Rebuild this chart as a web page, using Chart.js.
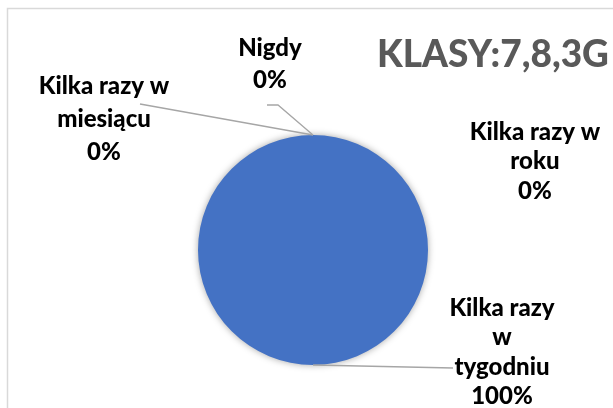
<!DOCTYPE html>
<html>
<head>
<meta charset="utf-8">
<script src="https://cdn.jsdelivr.net/npm/chart.js@4"></script>
<style>
  html, body { margin: 0; padding: 0; background: #fff; }
  #wrap { width: 613px; height: 408px; position: relative; }
</style>
</head>
<body>
<div id="wrap"><canvas id="pieChart"></canvas></div>
<script>
// Dane wykresu
const categories = ["Kilka razy w tygodniu", "Kilka razy w miesiącu", "Nigdy", "Kilka razy w roku"];
const values = [100, 0, 0, 0];
const chartTitle = "KLASY:7,8,3G";

// Etykiety: linie tekstu i miejsce (srodek tekstu), plus punkt konca linii odniesienia
const labelLines = [
  ["Kilka razy", "w", "tygodniu"],
  ["Kilka razy w", "miesiącu"],
  ["Nigdy"],
  ["Kilka razy w", "roku"],
];
const labelPos = [
  { x: 502, y: 308, lh: 29.5, line: [[453, 368]] },
  { x: 104, y: 86, lh: 33, line: [[140, 104]] },
  { x: 270, y: 48, lh: 32, line: [[278, 105], [267, 105]] },
  { x: 535, y: 132, lh: 29.5, line: null },
];

const FONT = "Lato, 'Open Sans', sans-serif";

const labelPlugin = {
  id: "pieLabels",
  beforeDatasetsDraw(chart) {
    const ctx = chart.ctx;
    ctx.save();
    ctx.shadowColor = "rgba(0,0,0,0.35)";
    ctx.shadowBlur = 7;
  },
  afterDatasetsDraw(chart) {
    const ctx = chart.ctx;
    ctx.restore();
    const meta = chart.getDatasetMeta(0);
    const total = values.reduce((a, b) => a + b, 0);

    // linie odniesienia
    ctx.save();
    ctx.strokeStyle = "#a6a6a6";
    ctx.lineWidth = 1.3;
    meta.data.forEach((arc, i) => {
      const pos = labelPos[i];
      if (!pos.line) return;
      const p = arc.getProps(["x", "y", "startAngle", "endAngle", "outerRadius"], true);
      const mid = (p.startAngle + p.endAngle) / 2;
      const sx = p.x + Math.cos(mid) * p.outerRadius;
      const sy = p.y + Math.sin(mid) * p.outerRadius;
      ctx.beginPath();
      ctx.moveTo(sx, sy);
      pos.line.forEach(([lx, ly]) => ctx.lineTo(lx, ly));
      ctx.stroke();
    });
    ctx.restore();

    // teksty etykiet
    ctx.save();
    ctx.fillStyle = "#000";
    ctx.font = "900 24px " + FONT;
    ctx.textAlign = "center";
    ctx.textBaseline = "middle";
    meta.data.forEach((arc, i) => {
      const pos = labelPos[i];
      const pct = Math.round((values[i] / total) * 100) + "%";
      const lines = labelLines[i].concat([pct]);
      lines.forEach((t, k) => ctx.fillText(t, pos.x, pos.y + k * pos.lh));
    });

    // tytul
    ctx.fillStyle = "#595959";
    ctx.font = "900 37px " + FONT;
    ctx.textAlign = "center";
    ctx.fillText(chartTitle, 493, 55);
    ctx.restore();

    // ramka
    ctx.save();
    ctx.strokeStyle = "#d9d9d9";
    ctx.lineWidth = 1.5;
    ctx.beginPath();
    ctx.moveTo(7.5, 420);
    ctx.lineTo(7.5, 8.5);
    ctx.lineTo(620, 8.5);
    ctx.stroke();
    ctx.restore();
  },
};

const ctx = document.getElementById("pieChart").getContext("2d");
new Chart(ctx, {
  type: "pie",
  data: {
    labels: categories,
    datasets: [
      {
        data: values,
        backgroundColor: ["#4472c4", "#ed7d31", "#a5a5a5", "#ffc000"],
        borderWidth: 0,
      },
    ],
  },
  options: {
    responsive: true,
    maintainAspectRatio: false,
    animation: false,
    layout: {
      padding: { left: 198, right: 185, top: 135, bottom: 43 },
    },
    plugins: {
      legend: { display: false },
      tooltip: { enabled: false },
    },
  },
  plugins: [labelPlugin],
});
</script>
</body>
</html>
